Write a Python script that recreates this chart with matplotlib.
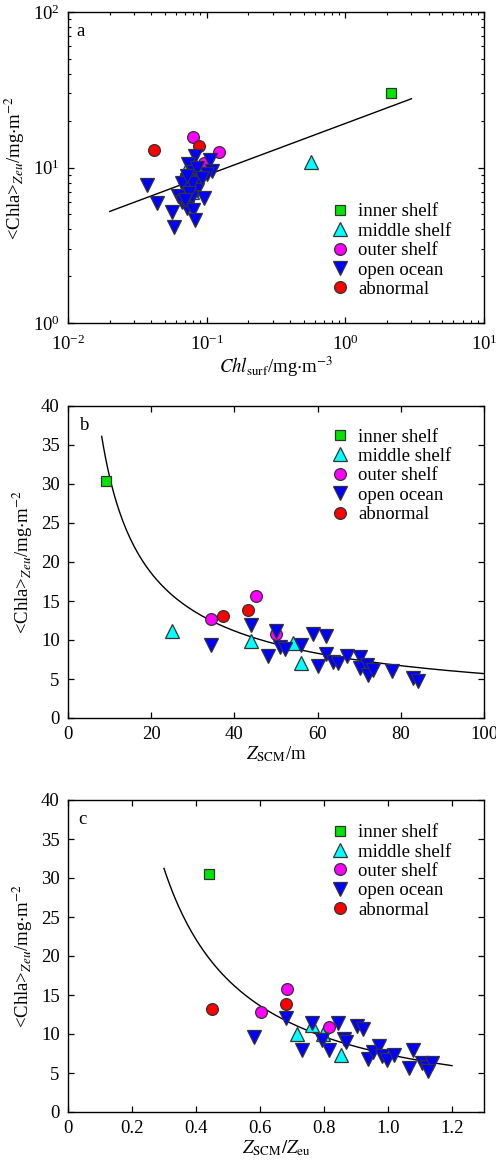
import numpy as np
import matplotlib
matplotlib.use('Agg')
import matplotlib.pyplot as plt

plt.rcParams['font.family'] = ['Liberation Serif', 'DejaVu Serif']
plt.rcParams['mathtext.fontset'] = 'stix'
plt.rcParams['font.size'] = 13.5

# ---- panel a : Chl_surf vs <Chla>_Zeu (log-log)
a_inner_x = [2.13]
a_inner_y = [30.3]
a_middle_x = [0.562, 0.071, 0.094, 0.078]
a_middle_y = [10.9, 9.6, 9.9, 7.0]
a_outer_x = [0.0793, 0.122, 0.095]
a_outer_y = [15.6, 12.6, 10.7]
a_abn_x = [0.0417, 0.0885]
a_abn_y = [13.0, 13.7]
a_open_x = [0.0373, 0.0441, 0.0565, 0.0584, 0.0824, 0.0737, 0.1057, 0.1085, 0.101,
            0.080, 0.0716, 0.0895, 0.0697, 0.0845, 0.0624, 0.078, 0.095, 0.066,
            0.0716, 0.080, 0.0824, 0.066, 0.078, 0.072, 0.085, 0.092, 0.075, 0.070]
a_open_y = [7.7, 5.95, 5.15, 4.16, 11.9, 10.5, 11.1, 9.5, 9.1,
            9.4, 8.3, 8.1, 7.3, 7.15, 6.6, 6.5, 6.4, 6.0,
            5.5, 5.3, 4.6, 7.9, 8.0, 8.8, 9.9, 8.6, 6.9, 6.2]
a_fit = (19.2, 0.333, 0.02, 3.0)

# ---- panel b : Z_SCM vs <Chla>_Zeu
b_inner_x = [9.1]
b_inner_y = [30.4]
b_middle_x = [25.1, 44.0, 54.0, 55.9]
b_middle_y = [11.2, 9.9, 9.65, 7.1]
b_outer_x = [34.3, 45.1, 50.0]
b_outer_y = [12.7, 15.7, 10.8]
b_abn_x = [37.2, 43.2]
b_abn_y = [13.1, 13.8]
b_open_x = [34.3, 44.1, 50.1, 48.1, 51.0, 52.2, 56.0, 59.0, 61.9, 60.0, 61.9,
            63.6, 64.8, 67.1, 70.2, 70.2, 71.8, 72.2, 73.2, 78.0, 82.9, 84.1]
b_open_y = [9.4, 11.9, 11.2, 7.9, 9.1, 8.9, 9.3, 10.8, 10.5, 6.7, 8.2,
            7.2, 7.1, 7.9, 7.8, 6.4, 6.8, 5.5, 6.2, 6.0, 5.1, 4.7]
b_fit = (168.0, -0.735, 8.1, 100.0)

# ---- panel c : Z_SCM/Z_eu vs <Chla>_Zeu
c_inner_x = [0.441]
c_inner_y = [30.5]
c_middle_x = [0.715, 0.763, 0.798, 0.852]
c_middle_y = [10.0, 11.2, 10.0, 7.3]
c_outer_x = [0.603, 0.685, 0.817]
c_outer_y = [12.8, 15.8, 10.9]
c_abn_x = [0.449, 0.681]
c_abn_y = [13.2, 13.9]
c_open_x = [0.582, 0.681, 0.732, 0.762, 0.793, 0.817, 0.843, 0.863, 0.869, 0.902,
            0.921, 0.938, 0.952, 0.973, 0.980, 0.998, 1.019, 1.067, 1.079, 1.105,
            1.121, 1.136, 1.124]
c_open_y = [9.6, 12.1, 8.0, 11.4, 9.2, 7.9, 11.4, 9.4, 9.0, 11.0,
            10.6, 6.8, 7.7, 8.4, 7.2, 6.7, 7.3, 5.7, 8.0, 6.3,
            5.8, 6.3, 5.2]
c_fit = (7.39, -1.197, 0.3, 1.2)

labels = ['inner shelf', 'middle shelf', 'outer shelf', 'open ocean', 'abnormal']
ec = '#333333'
ylab = r'<Chla>$_{\mathit{Zeu}}$/mg$\cdot$m$^{-2}$'

W, H = 496, 1162
fig = plt.figure(figsize=(W / 100, H / 100), dpi=100)


def make_ax(top, bottom):
    return fig.add_axes([68 / W, (H - bottom) / H, 416 / W, (bottom - top) / H])


def draw(ax, d, fit, log=False):
    (ix, iy), (mx, my), (ox, oy), (bx, by), (rx, ry) = d
    a, b, x0, x1 = fit
    if log:
        xf = np.logspace(np.log10(x0), np.log10(x1), 200)
    else:
        xf = np.linspace(x0, x1, 200)
    ax.plot(xf, a * xf ** b, color='black', lw=1.0, zorder=2)
    h1, = ax.plot(ix, iy, 's', ms=7, mfc='#00e600', mec=ec, mew=0.9, ls='none', zorder=3)
    h2, = ax.plot(mx, my, '^', ms=10, mfc='#00ffff', mec=ec, mew=0.9, ls='none', zorder=3)
    h3, = ax.plot(ox, oy, 'o', ms=8.5, mfc='#ff00ff', mec=ec, mew=0.9, ls='none', zorder=3)
    h5, = ax.plot(rx, ry, 'o', ms=8.5, mfc='#ff0000', mec=ec, mew=0.9, ls='none', zorder=3)
    h4, = ax.plot(bx, by, 'v', ms=10, mfc='#0000ff', mec=ec, mew=0.9, ls='none', zorder=4)
    ax.tick_params(which='both', direction='in', top=True, right=True)
    ax.tick_params(which='major', length=4, width=0.9)
    ax.tick_params(which='minor', length=2.5, width=0.8)
    ax.tick_params(axis='x', pad=6)
    ax.tick_params(axis='y', pad=6)
    for s in ax.spines.values():
        s.set_linewidth(1.0)
    return [h1, h2, h3, h4, h5]


def add_legend(ax, handles, y):
    ax.legend(handles, labels, loc='upper left', bbox_to_anchor=(0.632, y),
              frameon=False, handlelength=1.0, handletextpad=0.45,
              labelspacing=0.12, borderpad=0, borderaxespad=0, fontsize=13.5)


# panel a
ax1 = make_ax(12, 323)
h = draw(ax1, [(a_inner_x, a_inner_y), (a_middle_x, a_middle_y), (a_outer_x, a_outer_y),
               (a_open_x, a_open_y), (a_abn_x, a_abn_y)], a_fit, log=True)
ax1.set_xscale('log')
ax1.set_yscale('log')
ax1.set_xlim(1e-2, 1e1)
ax1.set_ylim(1e0, 1e2)
ax1.tick_params(axis='x', pad=8)
ax1.set_xlabel(r'$\mathit{Chl}_{\rm surf}$/mg$\cdot$m$^{-3}$', labelpad=1)
ax1.set_ylabel(ylab)
ax1.text(0.02, 0.965, 'a', transform=ax1.transAxes, va='top')
add_legend(ax1, h, 0.385)

# panel b
ax2 = make_ax(406, 718)
h = draw(ax2, [(b_inner_x, b_inner_y), (b_middle_x, b_middle_y), (b_outer_x, b_outer_y),
               (b_open_x, b_open_y), (b_abn_x, b_abn_y)], b_fit)
ax2.set_xlim(0, 100)
ax2.set_ylim(0, 40)
ax2.set_xticks([0, 20, 40, 60, 80, 100])
ax2.set_yticks(range(0, 41, 5))
ax2.set_xlabel(r'$\mathit{Z}_{\rm SCM}$/m', labelpad=1)
ax2.set_ylabel(ylab)
ax2.text(0.028, 0.965, 'b', transform=ax2.transAxes, va='top')
add_legend(ax2, h, 0.928)

# panel c
ax3 = make_ax(800, 1112)
h = draw(ax3, [(c_inner_x, c_inner_y), (c_middle_x, c_middle_y), (c_outer_x, c_outer_y),
               (c_open_x, c_open_y), (c_abn_x, c_abn_y)], c_fit)
ax3.set_xlim(0, 1.3)
ax3.set_ylim(0, 40)
ax3.set_xticks([0, 0.2, 0.4, 0.6, 0.8, 1.0, 1.2])
ax3.set_xticklabels(['0', '0.2', '0.4', '0.6', '0.8', '1.0', '1.2'])
ax3.set_yticks(range(0, 41, 5))
ax3.set_xlabel(r'$\mathit{Z}_{\rm SCM}/\mathit{Z}_{\rm eu}$', labelpad=1)
ax3.set_ylabel(ylab)
ax3.text(0.025, 0.965, 'c', transform=ax3.transAxes, va='top')
add_legend(ax3, h, 0.923)

fig.savefig('out.png', dpi=100)
